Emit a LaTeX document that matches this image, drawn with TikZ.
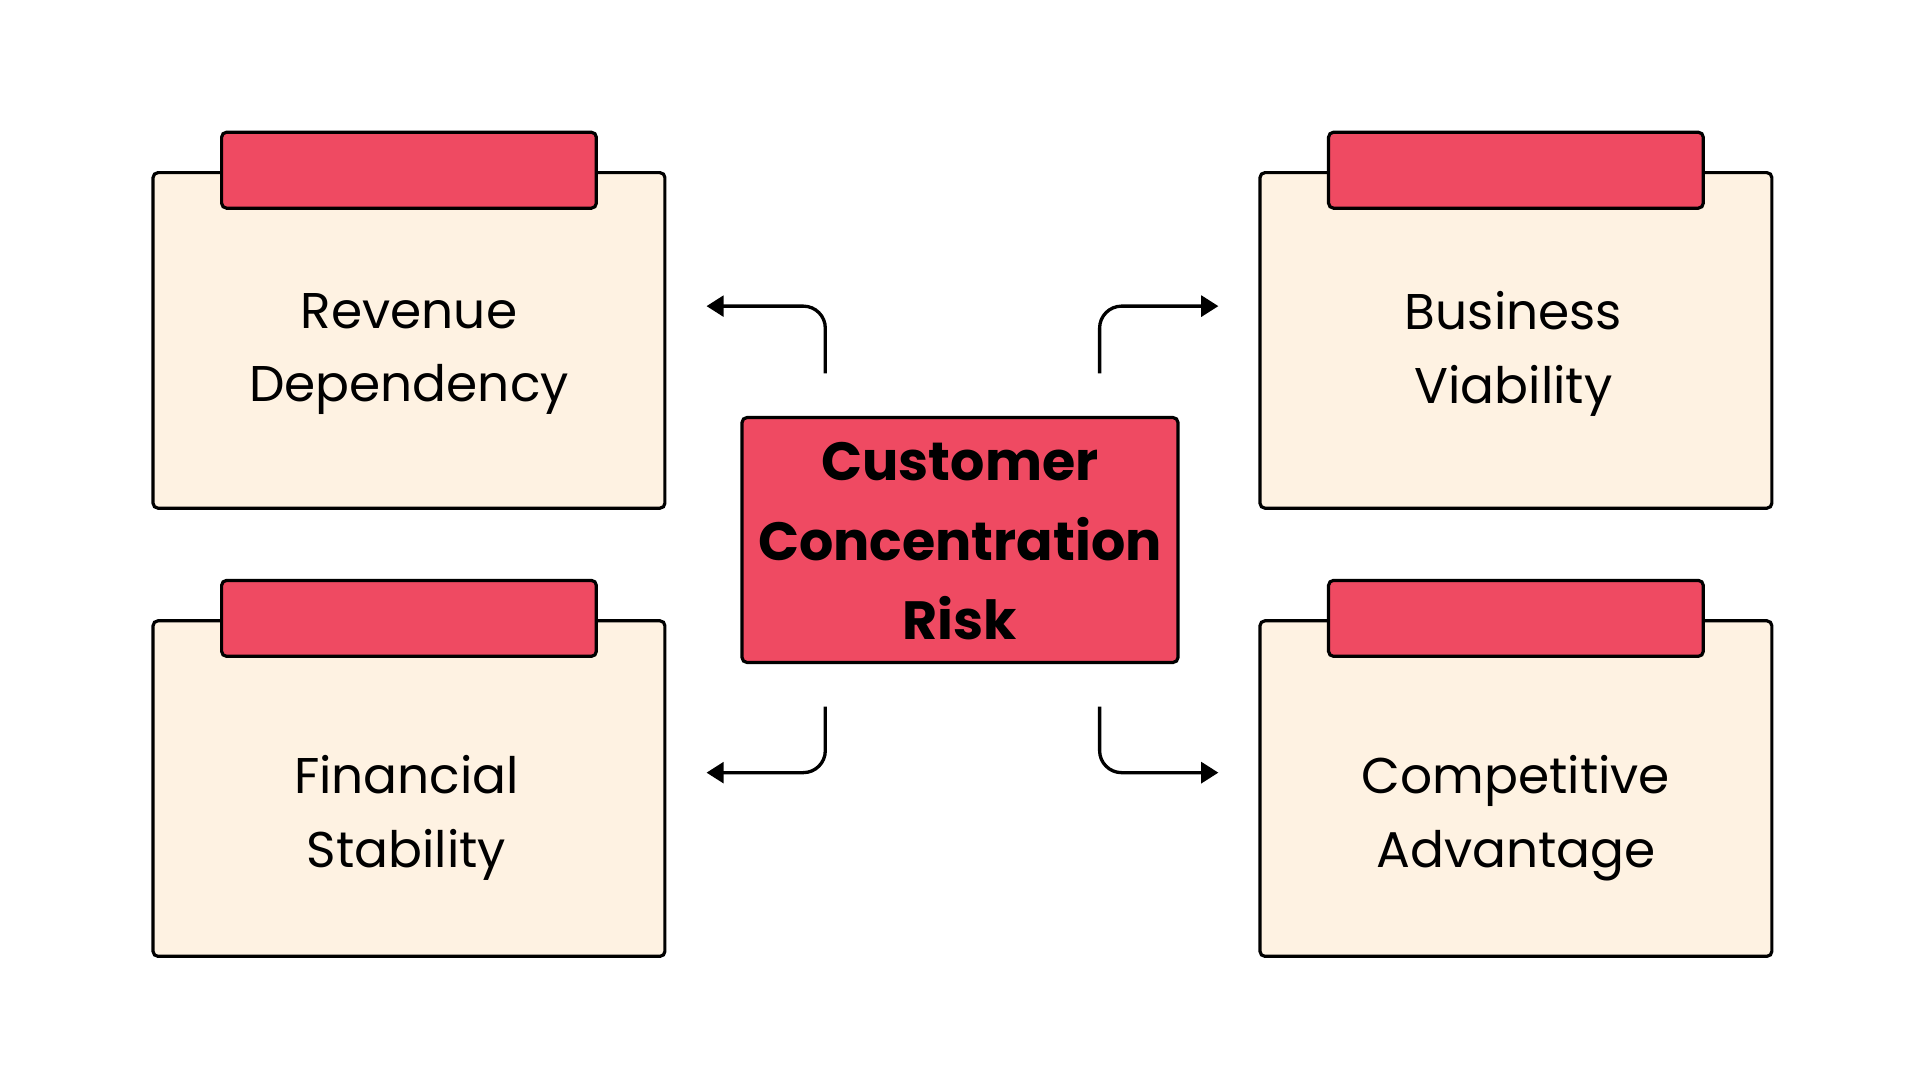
\documentclass[tikz,border=0pt]{standalone}
\usepackage{fontspec}
\setmainfont{Poppins}
\usetikzlibrary{arrows.meta,calc}
\definecolor{tabred}{RGB}{239,74,98}
\definecolor{cream}{RGB}{254,242,226}
\begin{document}
\begin{tikzpicture}[x=1pt,y=-1pt,
  card/.style={draw=black,line width=2.6pt,fill=cream,rounded corners=4pt,minimum width=418pt,minimum height=274pt,inner sep=0pt},
  cardtab/.style={draw=black,line width=2.6pt,fill=tabred,rounded corners=4pt,minimum width=306pt,minimum height=62pt,inner sep=0pt},
  core/.style={draw=black,line width=2.6pt,fill=tabred,rounded corners=4pt,minimum width=356pt,minimum height=200pt,inner sep=0pt},
  lbl/.style={align=center,font=\fontsize{41}{60}\selectfont,inner sep=0pt},
  corelbl/.style={align=center,font=\fontsize{44}{65}\selectfont\bfseries,inner sep=0pt},
  link/.style={line width=2.7pt,rounded corners=18pt,-{Triangle[length=14pt,width=17pt]}}
]
\useasboundingbox[fill=white] (0,0) rectangle (1568,882);
% cards
\node[card] (rd) at (334,278) {};
\node[cardtab] (rdt) at (334,139) {};
\node[lbl] (rdl) at (334,289) {Revenue\\Dependency};
\node[card] (bv) at (1238,278) {};
\node[cardtab] (bvt) at (1238,139) {};
\node[lbl] (bvl) at (1236,289) {Business\\Viability};
\node[card] (fs) at (334,644) {};
\node[cardtab] (fst) at (334,505) {};
\node[lbl] (fsl) at (332,668) {Financial\\Stability};
\node[card] (ca) at (1238,644) {};
\node[cardtab] (cat) at (1238,505) {};
\node[lbl] (cal) at (1238,668) {Competitive\\Advantage};
% core
\node[core] (cc) at (784,441) {};
\node[corelbl] (ccl) at (784,442) {Customer\\Concentration\\Risk};
% connector ends
\coordinate (s1) at (674,305);
\coordinate (e1) at (577,250);
\coordinate (s2) at (898,305);
\coordinate (e2) at (995,250);
\coordinate (s3) at (674,577);
\coordinate (e3) at (577,631);
\coordinate (s4) at (898,577);
\coordinate (e4) at (995,631);
\draw[link] (s1) |- (e1);
\draw[link] (s2) |- (e2);
\draw[link] (s3) |- (e3);
\draw[link] (s4) |- (e4);
\end{tikzpicture}
\end{document}
